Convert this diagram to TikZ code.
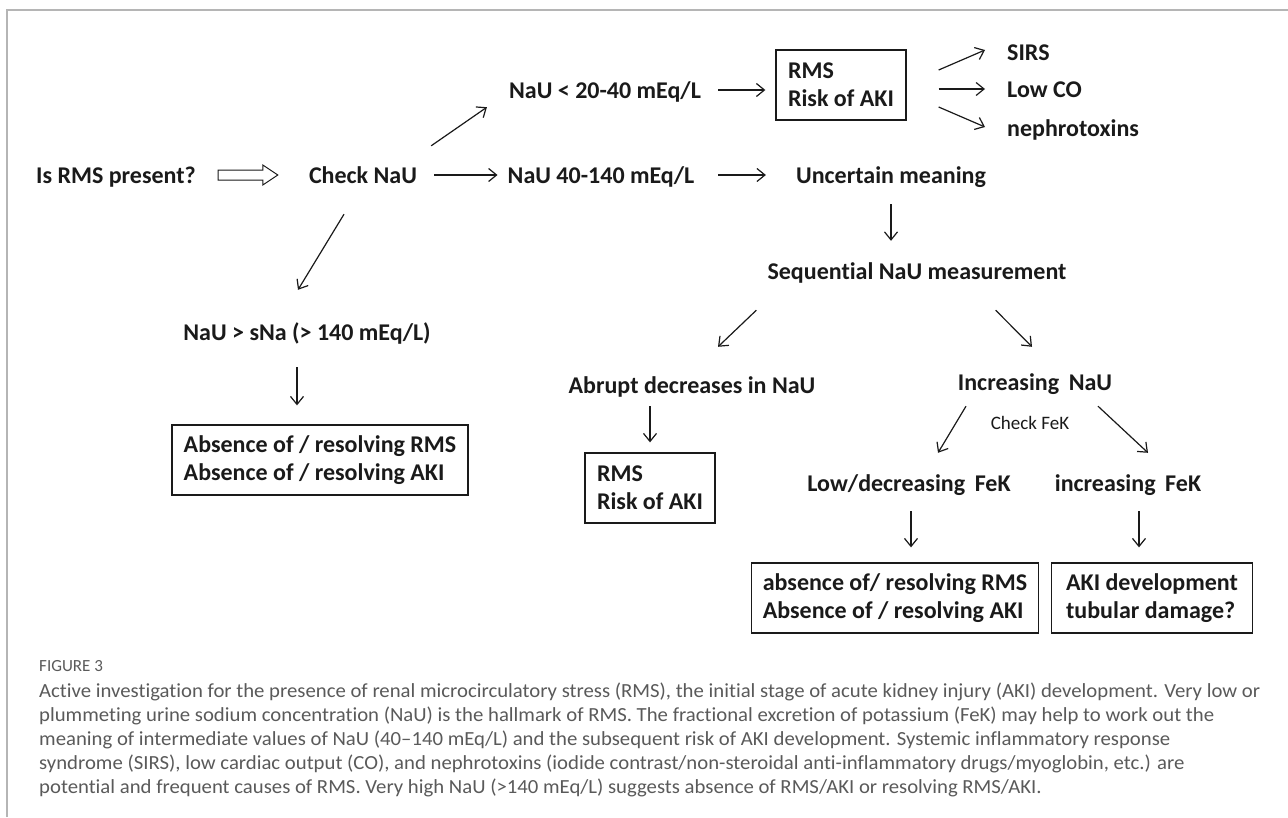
\documentclass[tikz,border=0pt]{standalone}
\usepackage{fontspec}
\setmainfont{Carlito}[Ligatures=NoCommon]
\usetikzlibrary{arrows.meta,calc}
\definecolor{framegray}{HTML}{B5B5B5}
\definecolor{capgray}{HTML}{5A5A5A}
\definecolor{ink}{HTML}{1A1A1A}
\newlength\capw
\begin{document}
\settowidth\capw{\fontsize{20}{24}\selectfont Active investigation for the presence of renal microcirculatory stress (RMS), the initial stage of acute kidney injury (AKI) development. Very low or}
\pgfmathsetmacro\capsx{1221/\capw}
\begin{tikzpicture}[x=1pt,y=-1pt,
  lbl/.style={inner sep=0pt, text height=16pt, text depth=0pt, text=ink, font=\fontsize{24}{28}\selectfont\bfseries},
  boxn/.style={draw=ink, line width=1.3pt, align=left, inner xsep=0pt, inner ysep=0pt, minimum height=70pt, text=ink, font=\fontsize{24}{28}\selectfont\bfseries},
  arr/.style={draw=ink, line width=1.2pt, -{Straight Barb[length=8pt,width=13pt]}},
  hollow/.style={draw=ink, line width=1pt, line join=miter},
  captxt/.style={anchor=base west, inner sep=0pt, text=capgray, font=\fontsize{20}{24}\selectfont}]

\useasboundingbox (0,0) rectangle (1288,817);
\fill[white] (0,0) rectangle (1288,817);
\draw[framegray, line width=1.5pt] (7,817) -- (7,10) -- (1288,10);

% main row
\node[lbl] (q) at (116,175) {Is RMS present?};
\node[lbl] (c) at (363,175) {Check NaU};
\node[lbl] (n2) at (601,175) {NaU 40-140 mEq/L};
\node[lbl] (unc) at (891,175) {Uncertain meaning};
\node[lbl] (n1) at (605,90) {NaU < 20-40 mEq/L};
\node[boxn, minimum width=130pt] (b1) at (841,85) {RMS\\Risk of AKI};
\node[lbl, anchor=west] (sirs) at (1007,52) {SIRS};
\node[lbl, anchor=west] (lowco) at (1007,89) {Low CO};
\node[lbl, anchor=west] (nephro) at (1007,128) {nephrotoxins};

% left branch
\node[lbl] (n3) at (307,332) {NaU > sNa (> 140 mEq/L)};
\node[boxn, minimum width=296pt] (box1) at (320,460) {Absence of / resolving RMS\\Absence of / resolving AKI};

% right part
\node[lbl] (seq) at (917,271) {Sequential NaU measurement};
\node[lbl] (abr) at (692,385) {Abrupt decreases in NaU};
\node[boxn, minimum width=130pt] (box2) at (650,488) {RMS\\Risk of AKI};
\node[lbl] (inc) at (1035,382) {Increasing\hspace{0.4em}NaU};
\node[inner sep=0pt, text height=13pt, text depth=0pt, text=ink, font=\fontsize{19}{22}\selectfont] (chk) at (1030,423) {Check FeK};
\node[lbl] (low) at (909,483) {Low/decreasing\hspace{0.4em}FeK};
\node[lbl] (incf) at (1128,483) {increasing\hspace{0.4em}FeK};
\node[boxn, minimum width=287pt] (box3) at (895,598) {absence of/ resolving RMS\\Absence of / resolving AKI};
\node[boxn, minimum width=201pt] (box4) at (1152,598) {AKI development\\tubular damage?};

% hollow block arrow from q to c
\coordinate (ha) at ([xshift=22pt]q.east);
\coordinate (hb) at ([xshift=-31pt]c.west);
\draw[hollow] ($(ha)+(0,-5)$) -- ($(hb)+(-15,-5)$) -- ($(hb)+(-15,-10)$) -- (hb)
  -- ($(hb)+(-15,10)$) -- ($(hb)+(-15,5)$) -- ($(ha)+(0,5)$) -- cycle;

% connectors
\draw[arr, shorten <=17pt, shorten >=10pt] (c.east) -- (n2.west);
\draw[arr] ([shift={(14,-21)}]c.north east) -- ([shift={(-22,9)}]n1.south west);
\draw[arr] ([shift={(-19,31)}]c.south) -- ([shift={(-9,-34)}]n3.north);
\draw[arr] ([shift={(-10,27)}]n3.south) -- ([shift={(-23,-19)}]box1.north);
\draw[arr, shorten <=17pt, shorten >=10pt] (n1.east) -- (b1.west |- n1.east);
\draw[arr] ([shift={(32,-15)}]b1.east) -- ([shift={(-22,-2)}]sirs.west);
\draw[arr, shorten <=32pt, shorten >=22pt] (b1.east |- lowco.west) -- (lowco.west);
\draw[arr] ([shift={(32,22)}]b1.east) -- ([shift={(-22,-1)}]nephro.west);
\draw[arr, shorten <=24pt, shorten >=30pt] (n2.east) -- (unc.west);
\draw[arr, shorten <=21pt, shorten >=22pt] (unc.south) -- (unc.south |- seq.north);
\draw[arr] ([shift={(-11,31)}]seq.south west) -- ([shift={(26,-30)}]abr.north);
\draw[arr] ([shift={(-71,31)}]seq.south east) -- ([shift={(-3,-27)}]inc.north);
\draw[arr, shorten <=13pt, shorten >=10pt] (box2.north |- abr.south) -- (box2.north);
\draw[arr] ([shift={(-69,16)}]inc.south) -- ([shift={(29,-22)}]low.north);
\draw[arr] ([shift={(63,16)}]inc.south) -- ([shift={(20,-22)}]incf.north);
\draw[arr] ([shift={(2,20)}]low.south) -- ([shift={(16,-15)}]box3.north);
\draw[arr] ([shift={(11,20)}]incf.south) -- ([shift={(-13,-15)}]box4.north);

% caption
\node[anchor=base west, inner sep=0pt, text=capgray, font=\fontsize{17}{20}\selectfont] (fig) at (39,671) {FIGURE 3};
\node[captxt] (cap1) at (39,697) {\scalebox{\capsx}[1]{Active investigation for the presence of renal microcirculatory stress (RMS), the initial stage of acute kidney injury (AKI) development. Very low or}};
\node[captxt] (cap2) at (39,721) {\scalebox{\capsx}[1]{plummeting urine sodium concentration (NaU) is the hallmark of RMS. The fractional excretion of potassium (FeK) may help to work out the}};
\node[captxt] (cap3) at (39,745) {\scalebox{\capsx}[1]{meaning of intermediate values of NaU (40–140 mEq/L) and the subsequent risk of AKI development. Systemic inflammatory response}};
\node[captxt] (cap4) at (39,769) {\scalebox{\capsx}[1]{syndrome (SIRS), low cardiac output (CO), and nephrotoxins (iodide contrast/non-steroidal anti-inflammatory drugs/myoglobin, etc.) are}};
\node[captxt] (cap5) at (39,793) {\scalebox{\capsx}[1]{potential and frequent causes of RMS. Very high NaU (>140 mEq/L) suggests absence of RMS/AKI or resolving RMS/AKI.}};
\end{tikzpicture}
\end{document}
